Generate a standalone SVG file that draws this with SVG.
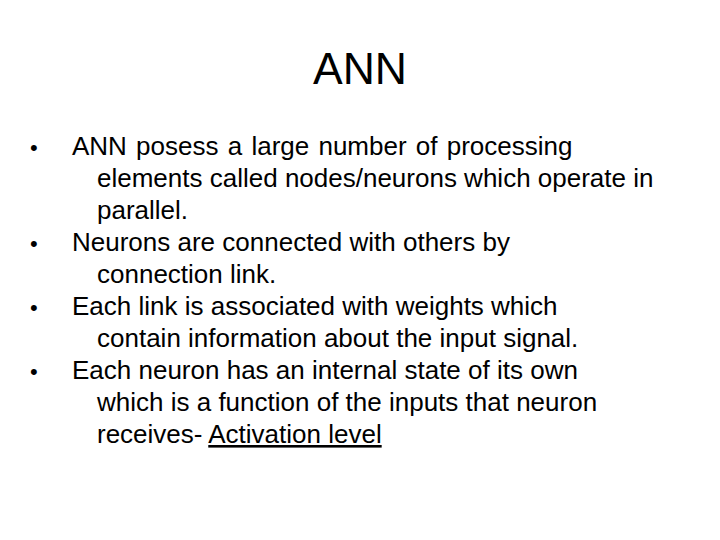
<svg xmlns="http://www.w3.org/2000/svg" width="720" height="540" viewBox="0 0 720 540">
<style>
text{font-family:"Liberation Sans",Arial,sans-serif;fill:#000}
.b{font-size:26px}
.d{font-size:22px}
</style>
<rect width="720" height="540" fill="#fff"/>
<text x="360" y="84" font-size="44.5" text-anchor="middle">ANN</text>
<g>
<text class="d" x="30" y="155">•</text>
<text class="b" x="72" y="155" word-spacing="2">ANN posess a large number of processing</text>
<text class="b" x="97" y="187">elements called nodes/neurons which operate in</text>
<text class="b" x="97" y="219">parallel.</text>
<text class="d" x="30" y="251">•</text>
<text class="b" x="72" y="251">Neurons are connected with others by</text>
<text class="b" x="97" y="283">connection link.</text>
<text class="d" x="30" y="315">•</text>
<text class="b" x="72" y="315">Each link is associated with weights which</text>
<text class="b" x="97" y="347">contain information about the input signal.</text>
<text class="d" x="30" y="379">•</text>
<text class="b" x="72" y="379">Each neuron has an internal state of its own</text>
<text class="b" x="97" y="411">which is a function of the inputs that neuron</text>
<text class="b" x="97" y="443">receives- <tspan text-decoration="underline">Activation level</tspan></text>
</g>
</svg>
